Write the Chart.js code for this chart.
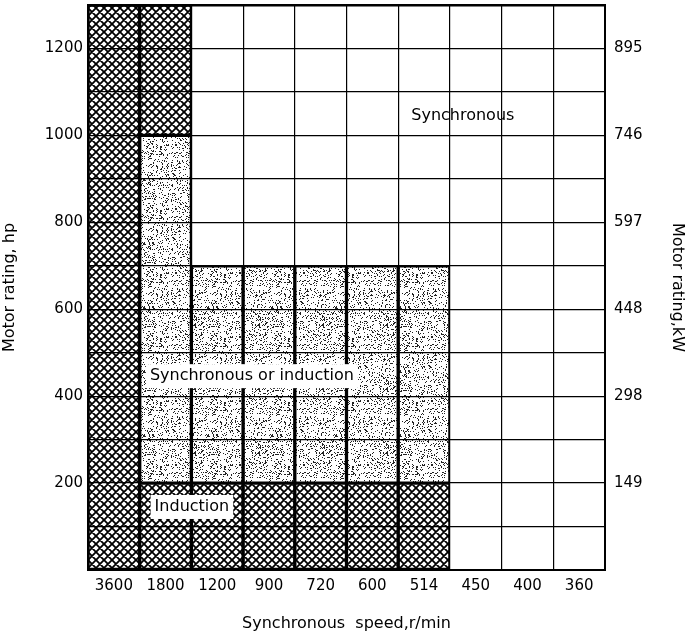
<!DOCTYPE html>
<html><head><meta charset="utf-8">
<script src="https://cdn.jsdelivr.net/npm/chart.js@4"></script>
<style>html,body{margin:0;padding:0;background:#fff}#wrap{width:687px;height:633px}</style>
</head><body><div id="wrap"><canvas id="c" width="687" height="633"></canvas></div>
<script>
// ---- data ----
const speeds = ['3600','1800','1200','900','720','600','514','450','400','360'];
const inductionMain = [[0,1300],[0,200],[0,200],[0,200],[0,200],[0,200],[0,200],null,null,null];
const inductionTop  = [null,[1000,1300],null,null,null,null,null,null,null,null];
const eitherType    = [null,[200,1000],[200,700],[200,700],[200,700],[200,700],[200,700],null,null,null];
const hpTicks = [200,400,600,800,1000,1200];
const kwTicks = ['149','298','448','597','746','895'];
const regionNames = ['Synchronous','Synchronous or induction','Induction'];
const regionX = [6.75, 2.67, 1.51];
const regionY = [1045, 446, 145];

// ---- textures ----
function crossHatch(){
  const c=document.createElement('canvas');c.width=8;c.height=8;
  const g=c.getContext('2d');g.fillStyle='#fff';g.fillRect(0,0,8,8);
  g.strokeStyle='#000';g.lineWidth=1.8;
  g.beginPath();g.moveTo(-2,-2);g.lineTo(10,10);g.moveTo(-2,10);g.lineTo(10,-2);
  g.moveTo(-2,6);g.lineTo(2,10);g.moveTo(6,-2);g.lineTo(10,2);
  g.moveTo(-2,2);g.lineTo(2,-2);g.moveTo(6,10);g.lineTo(10,6);
  g.stroke();
  return g.createPattern(c,'repeat');
}
function stipple(){
  const N=64;const c=document.createElement('canvas');c.width=N;c.height=N;
  const g=c.getContext('2d');g.fillStyle='#fff';g.fillRect(0,0,N,N);g.fillStyle='#222';
  for(let y=0;y<N;y++)for(let x=0;x<N;x++){
    let n=Math.imul(x,374761393)+Math.imul(y,668265263);
    n=Math.imul(n^(n>>>13),1274126177);n=(n^(n>>>16))>>>0;
    if(n/4294967296<0.18)g.fillRect(x,y,1,1);
  }
  return g.createPattern(c,'repeat');
}
const hatch=crossHatch(), dots=stipple();
const FONT='DejaVu Sans';

const labelPlugin={
  id:'regionLabels',
  afterDraw(chart){
    const ctx=chart.ctx, xs=chart.scales.x, ys=chart.scales.y;
    const step=xs.getPixelForValue(1)-xs.getPixelForValue(0);
    ctx.save();
    ctx.font='16px "'+FONT+'"';ctx.textAlign='center';ctx.textBaseline='middle';
    regionNames.forEach((t,i)=>{
      const px=xs.getPixelForValue(0)+regionX[i]*step, py=ys.getPixelForValue(regionY[i]);
      if(i>0){const w=ctx.measureText(t).width+8;ctx.fillStyle='#fff';ctx.fillRect(px-w/2,py-12,w,24);}
      ctx.fillStyle='#000';ctx.fillText(t,px,py);
    });
    ctx.restore();
  }
};

function fitY(w){return function(s){s.width=w;s.paddingTop=0;s.paddingBottom=0;};}

new Chart(document.getElementById('c'),{
  type:'bar',
  data:{labels:speeds,datasets:[
    {label:'Induction',data:inductionMain,backgroundColor:hatch},
    {label:'Induction',data:inductionTop,backgroundColor:hatch},
    {label:'Synchronous or induction',data:eitherType,backgroundColor:dots}
  ]},
  options:{
    responsive:false,animation:false,
    layout:{padding:{top:5,left:0,right:0,bottom:0}},
    plugins:{legend:{display:false},tooltip:{enabled:false}},
    datasets:{bar:{grouped:false,barPercentage:1,categoryPercentage:1,borderColor:'#000',borderWidth:2,borderSkipped:false}},
    scales:{
      x:{type:'category',offset:true,
        grid:{offset:true,color:'#000',lineWidth:1.2,drawTicks:false,z:1},
        border:{color:'#000',width:2,z:2},
        ticks:{color:'#000',font:{family:FONT,size:15},padding:7,maxRotation:0},
        title:{display:true,text:'Synchronous  speed,r/min',color:'#000',font:{family:FONT,size:16},padding:{top:12,bottom:0}},
        afterFit(s){s.height=63;}
      },
      y:{position:'left',min:0,max:1300,
        grid:{color:'#000',lineWidth:c=>(c.tick&&c.tick.value===1300)?2.5:1.2,drawTicks:false,z:1},
        border:{color:'#000',width:2,z:2},
        ticks:{stepSize:100,color:'#000',font:{family:FONT,size:15},padding:5,
          callback:v=>hpTicks.includes(v)?String(v):''},
        title:{display:true,text:'Motor rating, hp',color:'#000',font:{family:FONT,size:16},padding:{top:0,bottom:0}},
        afterFit:fitY(88)
      },
      y2:{position:'right',min:0,max:1300,
        grid:{drawOnChartArea:false,drawTicks:false},
        border:{color:'#000',width:2,z:2},
        ticks:{stepSize:100,color:'#000',font:{family:FONT,size:15},padding:9,
          callback:v=>{const k=hpTicks.indexOf(v);return k>=0?kwTicks[k]:'';}},
        title:{display:true,text:'Motor rating,kW',color:'#000',font:{family:FONT,size:16},padding:{top:0,bottom:4}},
        afterFit:fitY(82)
      }
    }
  },
  plugins:[labelPlugin]
});
</script></body></html>
